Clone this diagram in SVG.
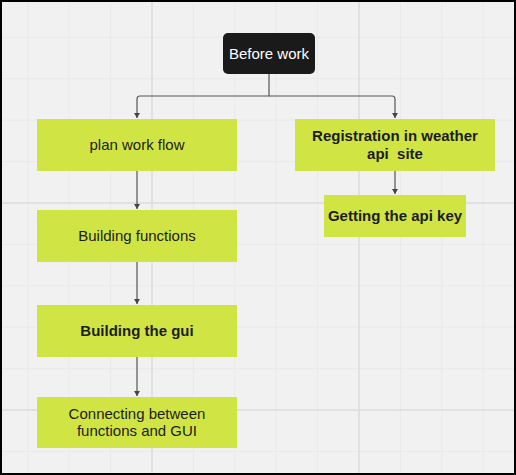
<svg xmlns="http://www.w3.org/2000/svg" width="516" height="475" viewBox="0 0 516 475">
<style>
.minor{stroke:#e9e9e9;stroke-width:1}
.major{stroke:#dcdcdc;stroke-width:1.5}
.box{fill:#d0e544}
.t{font-family:"Liberation Sans",Arial,sans-serif;font-size:15px;fill:#1c1c1c;text-anchor:middle;white-space:pre}
.b{font-weight:bold}
.conn{fill:none;stroke:#555;stroke-width:1.2}
</style>
<defs>
<marker id="arr" markerWidth="6" markerHeight="6" refX="5" refY="3" orient="auto" markerUnits="userSpaceOnUse">
<path d="M0,0 L5,3 L0,6 Z" fill="#444"/>
</marker>
</defs>
<rect x="0" y="0" width="516" height="475" fill="#f1f1f1"/>
<g id="grid">
<path class="minor" d="M27.8,0V475M69.2,0V475M110.6,0V475M193.4,0V475M234.8,0V475M276.2,0V475M317.6,0V475M400.4,0V475M441.8,0V475M483.2,0V475M0,37.4H516M0,78.8H516M0,120.2H516M0,161.6H516M0,244.4H516M0,285.8H516M0,327.2H516M0,368.6H516M0,451.4H516"/>
<path class="major" d="M152,0V475M359,0V475M0,203H516M0,410H516"/>
</g>
<g id="connectors">
<path class="conn" d="M269,74V96H140Q137,96 137,99V118" marker-end="url(#arr)"/>
<path class="conn" d="M269,96H392Q395,96 395,99V118" marker-end="url(#arr)"/>
<path class="conn" d="M137,171V209" marker-end="url(#arr)"/>
<path class="conn" d="M137,262V304" marker-end="url(#arr)"/>
<path class="conn" d="M137,357V396" marker-end="url(#arr)"/>
<path class="conn" d="M395,171V194" marker-end="url(#arr)"/>
</g>
<g id="before-work">
<rect x="223" y="33" width="92" height="41" rx="5" fill="#1a1a1a"/>
<text class="t" x="269" y="59" style="fill:#ffffff">Before work</text>
</g>
<g id="plan-work-flow">
<rect class="box" x="37" y="119" width="200" height="52"/>
<text class="t" x="137" y="150">plan work flow</text>
</g>
<g id="registration">
<rect class="box" x="295" y="119" width="200" height="52"/>
<text class="t b" x="395" y="141">Registration in weather</text>
<text class="t b" x="395" y="159" xml:space="preserve">api  site</text>
</g>
<g id="building-functions">
<rect class="box" x="37" y="210" width="200" height="52"/>
<text class="t" x="137" y="241">Building functions</text>
</g>
<g id="api-key">
<rect class="box" x="324" y="195" width="142" height="42"/>
<text class="t b" x="395" y="221">Getting the api key</text>
</g>
<g id="building-gui">
<rect class="box" x="37" y="305" width="200" height="52"/>
<text class="t b" x="137" y="336">Building the gui</text>
</g>
<g id="connecting">
<rect class="box" x="37" y="397" width="200" height="51"/>
<text class="t" x="137" y="419">Connecting between</text>
<text class="t" x="137" y="436">functions and GUI</text>
</g>
<rect x="1" y="1" width="514" height="473" fill="none" stroke="#000" stroke-width="2"/>
</svg>
